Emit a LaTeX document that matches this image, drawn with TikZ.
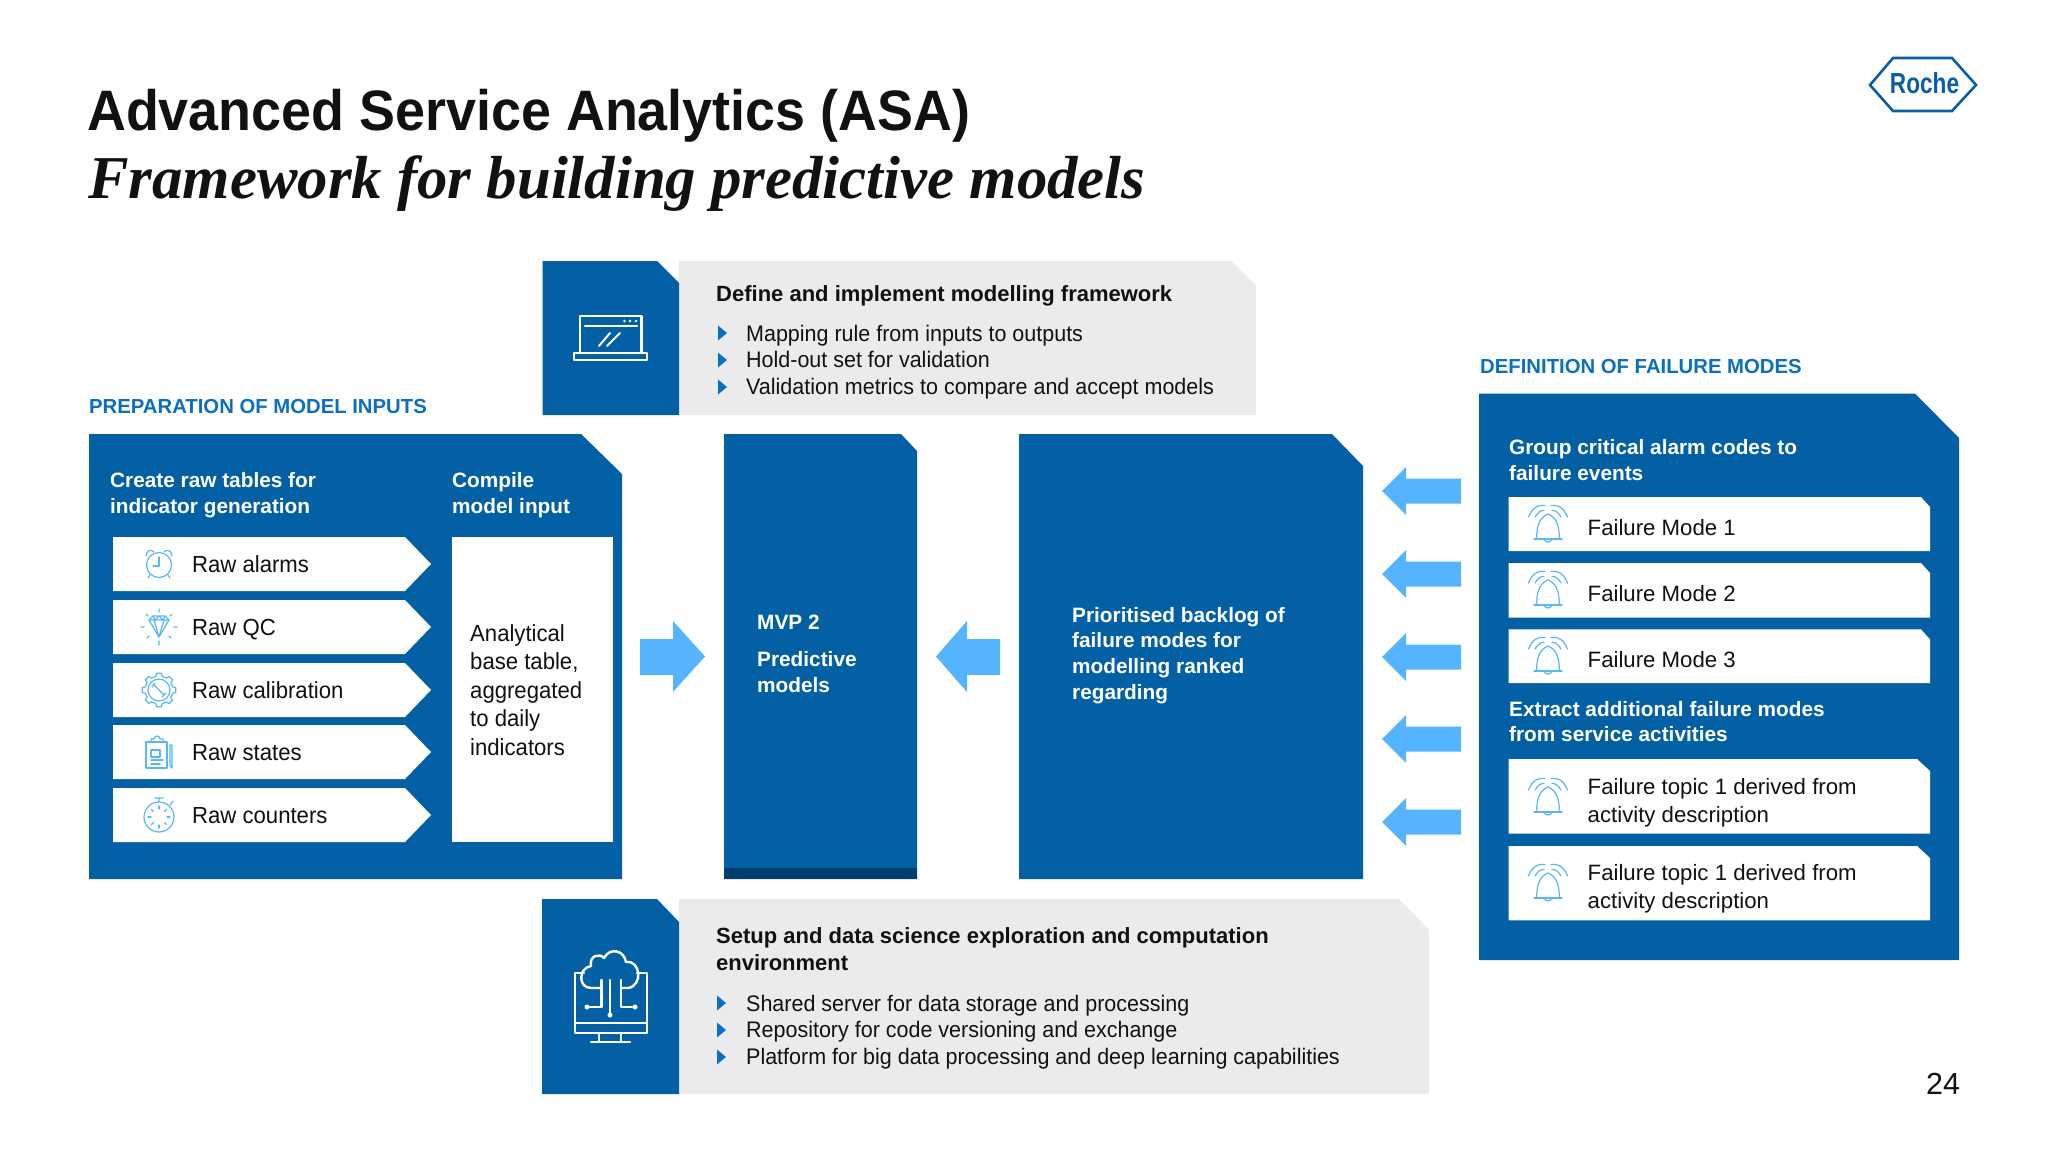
\documentclass[tikz,border=0pt]{standalone}
\usepackage{fontspec}
\setmainfont{Liberation Sans}
\newfontfamily\titleserif{Liberation Serif}
\definecolor{rblue}{HTML}{0460A5}
\definecolor{rdark}{HTML}{003F70}
\definecolor{rlight}{HTML}{55B4FF}
\definecolor{rlabel}{HTML}{0B6FC4}
\definecolor{rgrey}{HTML}{EBEBED}
\definecolor{ricon}{HTML}{5AB6F4}
\definecolor{rink}{HTML}{111111}
\newcommand{\fs}[2]{\fontsize{#1}{#2}\selectfont}
\tikzset{
  panel/.style={fill=rblue},
  card/.style={fill=white},
  greypanel/.style={fill=rgrey},
  blockarrow/.style={fill=rlight},
  tip/.style={fill=rlabel},
  txt/.style={inner sep=0pt, anchor=base west, align=left, text=rink},
  whitehead/.style={txt, text=white, font=\bfseries\fs{20.8}{25.6}},
  sectionhead/.style={txt, text=rlabel, font=\bfseries\fs{20.3}{26}},
  rowtext/.style={txt, xscale=.95, transform shape, font=\fs{23.3}{28.4}},
  modetext/.style={txt, font=\fs{22.2}{28}},
  paneltitle/.style={txt, font=\bfseries\fs{22}{27}},
  bullettext/.style={txt, xscale=.955, transform shape, font=\fs{22.5}{26.5}},
  ic/.style={draw=ricon, line width=1.2pt, line cap=round, line join=round},
  wic/.style={draw=white, line width=2.4pt, line cap=round, line join=round},
  pics/bell/.style={code={
    \draw[ic] (-14,14) -- (14,14);
    \draw[ic] (-11.5,14) .. controls (-11,3) and (-10,-7) .. (0,-11) .. controls (10,-7) and (11,3) .. (11.5,14);
    \draw[ic] (-4,14) .. controls (-3,18) and (3,18) .. (4,14);
    \draw[ic] (-19.5,-8) .. controls (-16,-17) and (-10,-21) .. (-3,-19.5);
    \draw[ic] (-13,-8) .. controls (-10,-13) and (-7,-15) .. (-4,-14.5);
    \draw[ic] (19.5,-8) .. controls (16,-17) and (10,-21) .. (3,-19.5);
    \draw[ic] (13,-8) .. controls (10,-13) and (7,-15) .. (4,-14.5);
  }},
  pics/tri/.style={code={\fill[tip] (0,-7.5) -- (9,0) -- (0,7.5) -- cycle;}}
}
\begin{document}
\begin{tikzpicture}[x=1pt,y=-1pt]
\useasboundingbox (0,0) rectangle (2048,1152);
\fill[white] (0,0) rectangle (2048,1152);

% title and logo
\node[txt, xscale=.945, transform shape, font=\bfseries\fs{57}{60}] (title) at (87,130) {Advanced Service Analytics (ASA)};
\node[txt, font=\titleserif\bfseries\itshape\fs{60.8}{64}] (subtitle) at (88,198) {Framework for building predictive models};
\draw[rlabel!85!black, line width=2.6pt, line join=miter] (1870,85) -- (1893,58) -- (1952,58) -- (1976,85) -- (1952,111) -- (1893,111) -- cycle;
\node[inner sep=0pt, text=rlabel!85!black, font=\bfseries\fs{29}{30}, xscale=.78, transform shape, anchor=base] (logo) at (1924.5,93) {Roche};
\node[txt, font=\fs{30.5}{32}, anchor=base] (page) at (1943,1094) {24};

% top panel
\path[greypanel] (679,261) -- (1231,261) -- (1256,285) -- (1256,415) -- (679,415) -- cycle;
\path[panel] (542.5,261) -- (657,261) -- (679,283) -- (679,415) -- (542.5,415) -- cycle;
\draw[wic] (580,353) -- (580,316) -- (641.5,316) -- (641.5,353);
\draw[wic] (585,326) -- (637,326);
\fill[white] (624.5,321) circle (1.3) (630,321) circle (1.3) (636,321) circle (1.3);
\draw[wic, line width=2pt] (599,346) -- (610,333) (607,346) -- (620,333);
\draw[wic] (574,353) rectangle (647,360);
\node[paneltitle] (deftitle) at (716,301) {Define and implement modelling framework};
\pic at (718,333) {tri};
\pic at (718,360) {tri};
\pic at (718,387) {tri};
\node[bullettext] (def1) at (746,341) {Mapping rule from inputs to outputs};
\node[bullettext] (def2) at (746,367.5) {Hold-out set for validation};
\node[bullettext] (def3) at (746,394) {Validation metrics to compare and accept models};

% left panel
\node[sectionhead] (prep) at (89,413) {PREPARATION OF MODEL INPUTS};
\path[panel] (89,434) -- (581,434) -- (622,474) -- (622,879) -- (89,879) -- cycle;
\node[whitehead] (create) at (110,513) {Create raw tables for\\indicator generation};
\node[whitehead] (compile) at (452,513) {Compile\\model input};
\foreach \ya/\yb in {537/591, 600/654, 663/717, 725/779, 788/842}
  \path[card] (113,\ya) -- (405,\ya) -- (431,{(\ya+\yb)/2}) -- (405,\yb) -- (113,\yb) -- cycle;
\path[card] (452,537) rectangle (613,842);
\node[rowtext] (raw1) at (192,572.5) {Raw alarms};
\node[rowtext] (raw2) at (192,635.5) {Raw QC};
\node[rowtext] (raw3) at (192,698) {Raw calibration};
\node[rowtext] (raw4) at (192,760.5) {Raw states};
\node[rowtext] (raw5) at (192,823.5) {Raw counters};
\node[rowtext] (abt) at (470,755) {Analytical\\base table,\\aggregated\\to daily\\indicators};

% row icons
\draw[ic] (159,565) circle (12.5);
\draw[ic] (159,557) -- (159,566) -- (153,566);
\draw[ic] (146,556) .. controls (146,550) and (152,549) .. (154,552);
\draw[ic] (172,556) .. controls (172,550) and (166,549) .. (164,552);
\draw[ic] (150,575) -- (148,578) (168,575) -- (170,578);
\draw[ic] (149,620) -- (153,616) -- (165,616) -- (169,620) -- (159,637) -- cycle;
\draw[ic] (149,620) -- (169,620) (154,620) -- (159,637) -- (164,620) (153,616) -- (155,620) (165,616) -- (163,620) (159,616) -- (155,620) (159,616) -- (163,620);
\draw[ic] (159,609) -- (159,612) (159,641) -- (159,645) (141,627) -- (144,627) (174,627) -- (177,627) (146,614) -- (148,616) (172,614) -- (170,616) (147,638) -- (149,636) (171,638) -- (169,636);
\begin{scope}[shift={(159,690)}]
  \foreach \a in {0,45,...,315}
    \draw[ic] (\a-13:14) -- (\a-8:17) -- (\a+8:17) -- (\a+13:14) -- (\a+32:14);
  \draw[ic] (0,0) circle (11);
  \draw[ic] (-5,-5) -- (5,5) (-7,-3) -- (-4,-7) (3,7) -- (7,3);
\end{scope}
\draw[ic] (146,742) rectangle (167,768);
\draw[ic] (151,742) -- (151,739) -- (154,739) .. controls (154,735) and (160,735) .. (160,739) -- (163,739) -- (163,742);
\draw[ic] (151,750) rectangle (160,757);
\draw[ic] (151,760) -- (163,760) (151,764) -- (160,764);
\draw[ic] (170,745) -- (170,766) -- (172,768) -- (172,745) -- cycle;
\draw[ic] (159,817) circle (15);
\draw[ic] (159,802) -- (159,798) (155,798) -- (163,798) (170,805) -- (173,801);
\foreach \a in {0,45,...,315}
  \draw[ic] (159,817) ++(\a:8) -- ++(\a:3);

% centre blocks
\path[panel] (724,434) -- (901,434) -- (917,451) -- (917,879) -- (724,879) -- cycle;
\fill[rdark] (724,868) rectangle (917,879);
\node[whitehead] (mvp) at (757,629) {MVP 2};
\node[whitehead] (pred) at (757,692) {Predictive\\models};
\path[panel] (1019,434) -- (1332,434) -- (1363,466) -- (1363,879) -- (1019,879) -- cycle;
\node[whitehead] (backlog) at (1072,699) {Prioritised backlog of\\failure modes for\\modelling ranked\\regarding};

% block arrows
\path[blockarrow] (640,639) -- (673,639) -- (673,621) -- (705,656.5) -- (673,692) -- (673,675) -- (640,675) -- cycle;
\path[blockarrow] (1000,639) -- (967,639) -- (967,621) -- (936,656.5) -- (967,692) -- (967,675) -- (1000,675) -- cycle;
\foreach \yc in {491,574,657,739,822}
  \path[blockarrow] (1461,\yc-12.5) -- (1406,\yc-12.5) -- (1406,\yc-24) -- (1382,\yc) -- (1406,\yc+24) -- (1406,\yc+12.5) -- (1461,\yc+12.5) -- cycle;

% right panel
\node[sectionhead] (defn) at (1480,373) {DEFINITION OF FAILURE MODES};
\path[panel] (1479,393.5) -- (1915,393.5) -- (1959,438) -- (1959,960) -- (1479,960) -- cycle;
\node[whitehead] (group) at (1509,480.4) {Group critical alarm codes to\\failure events};
\foreach \ya/\yb in {497/551, 563/617.5, 629.4/683}
  \path[card] (1508.5,\ya) -- (1921,\ya) -- (1930,\ya+10) -- (1930,\yb) -- (1508.5,\yb) -- cycle;
\node[whitehead] (extract) at (1509,741.6) {Extract additional failure modes\\from service activities};
\foreach \ya/\yb in {759/833.5, 846/920.4}
  \path[card] (1508.5,\ya) -- (1917,\ya) -- (1930,\ya+12) -- (1930,\yb) -- (1508.5,\yb) -- cycle;
\pic at (1548,525) {bell};
\pic at (1548,591) {bell};
\pic at (1548,657) {bell};
\pic at (1548,798) {bell};
\pic at (1548,884) {bell};
\node[modetext] (fm1) at (1587.5,535.5) {Failure Mode 1};
\node[modetext] (fm2) at (1587.5,601.2) {Failure Mode 2};
\node[modetext] (fm3) at (1587.5,667) {Failure Mode 3};
\node[modetext] (ft1) at (1587.5,822) {Failure topic 1 derived from\\activity description};
\node[modetext] (ft2) at (1587.5,908.5) {Failure topic 1 derived from\\activity description};

% bottom panel
\path[greypanel] (679,899) -- (1399,899) -- (1429,930) -- (1429,1094) -- (679,1094) -- cycle;
\path[panel] (542,899) -- (657,899) -- (679,922) -- (679,1094) -- (542,1094) -- cycle;
\draw[wic] (584,973) -- (575,973) -- (575,1033) -- (647,1033) -- (647,973) -- (637,973);
\draw[wic] (575,1023) -- (647,1023);
\draw[wic] (599,1033) -- (599,1042) (621,1033) -- (621,1042) (591,1042) -- (630,1042);
\draw[wic] (601,988) -- (591,988) .. controls (578,988) and (578,968) .. (591,966) .. controls (589,955) and (600,953) .. (604,958) .. controls (610,947) and (624,950) .. (626,962) .. controls (641,960) and (643,986) .. (628,988) -- (621,988);
\draw[wic] (610,980) -- (610,1013) (601.6,980) -- (601.6,1007) -- (590,1007) (621,980) -- (621,1007) -- (632,1007);
\fill[white] (587,1007) circle (2.5) (635,1007) circle (2.5) (610,1015) circle (2.5);
\node[paneltitle] (setup) at (716,970) {Setup and data science exploration and computation\\environment};
\pic at (717,1003) {tri};
\pic at (717,1030) {tri};
\pic at (717,1057) {tri};
\node[bullettext] (setup1) at (746,1011) {Shared server for data storage and processing};
\node[bullettext] (setup2) at (746,1037.5) {Repository for code versioning and exchange};
\node[bullettext] (setup3) at (746,1064) {Platform for big data processing and deep learning capabilities};
\end{tikzpicture}
\end{document}
